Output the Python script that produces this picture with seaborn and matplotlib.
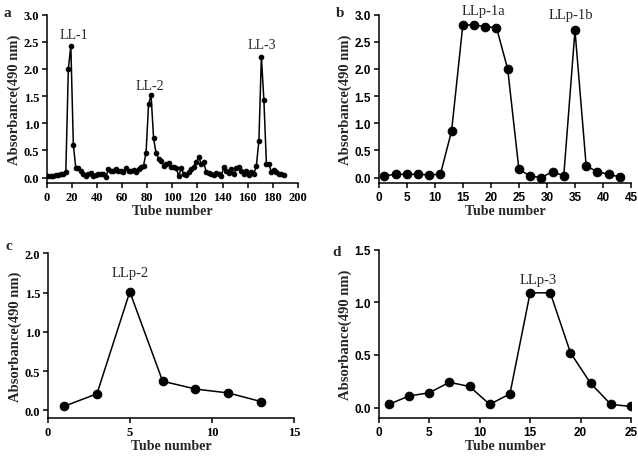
import numpy as np
import pandas as pd
import seaborn as sns
import matplotlib.pyplot as plt

# panel a - gel column, all tubes
tube_a = [1, 3, 5, 7, 9, 11, 13, 15, 17, 19, 21, 23, 25, 27, 29, 31, 33, 35, 37, 39,
          41, 43, 45, 47, 49, 51, 53, 55, 57, 59, 61, 63, 65, 67, 69, 71, 73, 75, 77, 79,
          81, 83, 85, 87, 89, 91, 93, 95, 97, 99, 101, 103, 105, 107, 109, 111, 113, 115, 117, 119,
          121, 123, 125, 127, 129, 131, 133, 135, 137, 139, 141, 143, 145, 147, 149, 151, 153, 155, 157, 159,
          161, 163, 165, 167, 169, 171, 173, 175, 177, 179, 181, 183, 185, 187, 189]
abs_a = [0.02, 0.02, 0.03, 0.04, 0.05, 0.07, 0.06, 0.10, 2.00, 2.42, 0.60, 0.17, 0.18, 0.12, 0.07, 0.03, 0.07, 0.08, 0.03, 0.05,
         0.06, 0.06, 0.07, 0.01, 0.15, 0.13, 0.12, 0.15, 0.12, 0.12, 0.11, 0.17, 0.12, 0.12, 0.14, 0.10, 0.15, 0.20, 0.22, 0.46,
         1.35, 1.52, 0.72, 0.45, 0.35, 0.30, 0.22, 0.25, 0.26, 0.20, 0.20, 0.18, 0.03, 0.17, 0.07, 0.05, 0.10, 0.15, 0.20, 0.28,
         0.38, 0.25, 0.28, 0.10, 0.08, 0.07, 0.05, 0.08, 0.07, 0.02, 0.20, 0.12, 0.08, 0.15, 0.06, 0.18, 0.20, 0.12, 0.06, 0.12,
         0.05, 0.10, 0.07, 0.22, 0.68, 2.22, 1.42, 0.25, 0.25, 0.10, 0.14, 0.10, 0.07, 0.06, 0.05]

# panel b
tube_b = [1, 3, 5, 7, 9, 11, 13, 15, 17, 19, 21, 23, 25, 27, 29, 31, 33, 35, 37, 39, 41, 43]
abs_b = [0.03, 0.06, 0.06, 0.06, 0.05, 0.06, 0.86, 2.81, 2.81, 2.78, 2.76, 2.00, 0.15, 0.03, 0.00, 0.11, 0.03, 2.71, 0.21, 0.11, 0.06, 0.01]

# panel c
tube_c = [1, 3, 5, 7, 9, 11, 13]
abs_c = [0.05, 0.21, 1.51, 0.37, 0.27, 0.22, 0.11]

# panel d
tube_d = [1, 3, 5, 7, 9, 11, 13, 15, 17, 19, 21, 23, 25]
abs_d = [0.03, 0.11, 0.14, 0.24, 0.20, 0.03, 0.13, 1.09, 1.09, 0.52, 0.23, 0.03, 0.01]

sns.set_style("ticks")
plt.rcParams['font.family'] = ['Liberation Serif', 'DejaVu Serif']

fig = plt.figure(figsize=(6.38, 4.6), dpi=100)
ax_a = fig.add_axes([0.0737, 0.600, 0.393, 0.366])
ax_b = fig.add_axes([0.5936, 0.600, 0.3955, 0.366])
ax_c = fig.add_axes([0.0748, 0.089, 0.386, 0.358])
ax_d = fig.add_axes([0.5936, 0.089, 0.3955, 0.366])

serif = 'Liberation Serif'
sans = 'Liberation Sans'

def style_axis(ax, tick_font, tick_size):
    for s in ['top', 'right']:
        ax.spines[s].set_visible(False)
    for s in ['left', 'bottom']:
        ax.spines[s].set_linewidth(1.1)
        ax.spines[s].set_color('black')
    ax.tick_params(direction='out', length=3.5, width=1.1, colors='black', pad=2)
    for lab in ax.get_xticklabels() + ax.get_yticklabels():
        lab.set_fontfamily(tick_font)
        lab.set_fontweight('bold')
        lab.set_fontsize(tick_size)
    ax.set_ylabel('Absorbance(490 nm)', fontfamily=serif, fontweight='bold', fontsize=10.5, labelpad=2)
    ax.set_xlabel('Tube number', fontfamily=serif, fontweight='bold', fontsize=10, labelpad=1)

def draw(ax, tubes, vals, msize):
    df = pd.DataFrame({'tube': tubes, 'abs': vals})
    sns.lineplot(data=df, x='tube', y='abs', ax=ax, color='black', lw=1.1,
                 marker='o', markersize=msize, markeredgecolor='black')

# a
draw(ax_a, tube_a, abs_a, 3.3)
ax_a.set_xlim(0, 200)
ax_a.set_ylim(-0.1, 3.0)
ax_a.set_xticks(range(0, 201, 20))
ax_a.set_yticks([0, 0.5, 1.0, 1.5, 2.0, 2.5, 3.0])
ax_a.set_yticklabels(['0.0', '0.5', '1.0', '1.5', '2.0', '2.5', '3.0'])
style_axis(ax_a, serif, 9)
ax_a.text(21, 2.64, 'LL-1', ha='center', va='center', fontsize=10)
ax_a.text(82, 1.69, 'LL-2', ha='center', va='center', fontsize=10)
ax_a.text(171, 2.45, 'LL-3', ha='center', va='center', fontsize=10)

# b
draw(ax_b, tube_b, abs_b, 6.2)
ax_b.set_xlim(0, 45)
ax_b.set_ylim(-0.1, 3.0)
ax_b.set_xticks(range(0, 46, 5))
ax_b.set_yticks([0, 0.5, 1.0, 1.5, 2.0, 2.5, 3.0])
ax_b.set_yticklabels(['0.0', '0.5', '1.0', '1.5', '2.0', '2.5', '3.0'])
style_axis(ax_b, sans, 8.5)
ax_b.text(18.7, 3.07, 'LLp-1a', ha='center', va='center', fontsize=10.5, clip_on=False)
ax_b.text(34.2, 3.01, 'LLp-1b', ha='center', va='center', fontsize=10.5, clip_on=False)

# c
draw(ax_c, tube_c, abs_c, 6.2)
ax_c.set_xlim(0, 15)
ax_c.set_ylim(-0.1, 2.0)
ax_c.set_xticks([0, 5, 10, 15])
ax_c.set_yticks([0, 0.5, 1.0, 1.5, 2.0])
ax_c.set_yticklabels(['0.0', '0.5', '1.0', '1.5', '2.0'])
style_axis(ax_c, serif, 9)
ax_c.text(5, 1.76, 'LLp-2', ha='center', va='center', fontsize=10.5)

# d
draw(ax_d, tube_d, abs_d, 6.2)
ax_d.set_xlim(0, 25)
ax_d.set_ylim(-0.1, 1.5)
ax_d.set_xticks([0, 5, 10, 15, 20, 25])
ax_d.set_yticks([0, 0.5, 1.0, 1.5])
ax_d.set_yticklabels(['0.0', '0.5', '1.0', '1.5'])
style_axis(ax_d, sans, 8.5)
ax_d.text(15.8, 1.22, 'LLp-3', ha='center', va='center', fontsize=10.5)

# panel letters
fig.text(0.006, 0.985, 'a', fontweight='bold', fontsize=11, va='top')
fig.text(0.527, 0.985, 'b', fontweight='bold', fontsize=11, va='top')
fig.text(0.008, 0.479, 'c', fontweight='bold', fontsize=11, va='top')
fig.text(0.521, 0.466, 'd', fontweight='bold', fontsize=11, va='top')

fig.savefig('out.png', dpi=100)
